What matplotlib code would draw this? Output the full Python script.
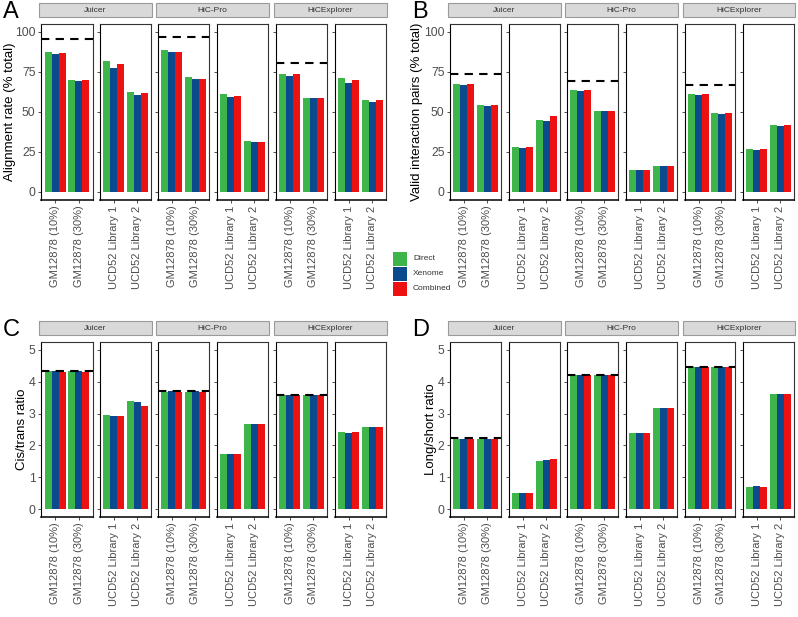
import matplotlib
matplotlib.use("Agg")
import matplotlib.pyplot as plt
from matplotlib.patches import Rectangle
import numpy as np

plt.rcParams['font.family'] = ['Liberation Sans', 'DejaVu Sans']

tools = ['Juicer', 'HiC-Pro', 'HiCExplorer']
methods = ['Direct', 'Xenome', 'Combined']
colors = ['#3DB54A', '#0B4A8C', '#EE1111']
gm_samples = ['GM12878 (10%)', 'GM12878 (30%)']
ucd_samples = ['UCD52 Library 1', 'UCD52 Library 2']

# values per tool: [GM10, GM30, UCD1, UCD2] for Juicer, HiC-Pro, HiCExplorer
align_direct = [87.3, 70.1, 81.9, 62.8, 89.0, 71.9, 61.3, 31.8, 73.6, 58.8, 71.3, 57.8]
align_xenome = [86.5, 69.2, 77.3, 60.9, 87.7, 70.5, 59.3, 31.2, 72.8, 58.6, 68.2, 56.5]
align_combined = [87.1, 69.9, 79.8, 61.7, 87.7, 70.5, 60.1, 31.4, 73.6, 58.8, 70.3, 57.4]
align_ref = [95.6, 96.7, 80.9]

valid_direct = [67.2, 54.1, 28.3, 45.3, 63.6, 50.9, 13.5, 16.2, 61.1, 49.1, 27.0, 42.0]
valid_xenome = [66.7, 53.6, 27.4, 44.5, 63.4, 50.5, 13.5, 16.0, 60.5, 48.6, 26.0, 41.4]
valid_combined = [67.2, 54.1, 27.9, 47.8, 63.6, 50.9, 13.5, 16.2, 61.1, 49.1, 26.8, 42.0]
valid_ref = [74.0, 69.6, 66.9]

cis_direct = [4.33, 4.33, 2.95, 3.39, 3.69, 3.69, 1.72, 2.68, 3.59, 3.59, 2.43, 2.58]
cis_xenome = [4.34, 4.34, 2.91, 3.37, 3.70, 3.70, 1.72, 2.68, 3.60, 3.60, 2.38, 2.59]
cis_combined = [4.32, 4.32, 2.91, 3.23, 3.69, 3.69, 1.72, 2.68, 3.59, 3.59, 2.41, 2.58]
cis_ref = [4.34, 3.70, 3.60]

ls_direct = [2.20, 2.20, 0.50, 1.52, 4.21, 4.21, 2.40, 3.17, 4.47, 4.47, 0.68, 3.61]
ls_xenome = [2.21, 2.21, 0.52, 1.54, 4.22, 4.22, 2.40, 3.17, 4.48, 4.48, 0.71, 3.61]
ls_combined = [2.20, 2.20, 0.52, 1.57, 4.21, 4.21, 2.40, 3.17, 4.47, 4.47, 0.70, 3.61]
ls_ref = [2.22, 4.22, 4.48]

W, H = 798, 617
fig = plt.figure(figsize=(W / 100, H / 100), dpi=100)


def rect(x0, y0, x1, y1):
    return [x0 / W, 1 - y1 / H, (x1 - x0) / W, (y1 - y0) / H]


def draw_panel(letter, lx, top, bottom, xs, series, refs, ylim, yticks, ytitle, ytitle_x):
    strip_top, strip_bot = top - 21, top - 7
    for ti, tool in enumerate(tools):
        # strip
        sx0 = xs[2 * ti][0] - 2
        sx1 = xs[2 * ti + 1][1] + 1
        fig.patches.append(Rectangle((sx0 / W, 1 - strip_bot / H), (sx1 - sx0) / W,
                                     (strip_bot - strip_top) / H, transform=fig.transFigure,
                                     facecolor='#D9D9D9', edgecolor='#9A9A9A', lw=0.8))
        fig.text((sx0 + sx1) / 2 / W, 1 - (strip_top + strip_bot) / 2 / H, tool,
                 ha='center', va='center', fontsize=6, color='#333333')
        for gi, samples in enumerate([gm_samples, ucd_samples]):
            ax = fig.add_axes(rect(xs[2 * ti + gi][0], top, xs[2 * ti + gi][1], bottom))
            cats = np.arange(1, 3)
            bw = 0.3
            for mi, vals in enumerate(series):
                v = vals[ti * 4 + gi * 2: ti * 4 + gi * 2 + 2]
                ax.bar(cats + (mi - 1) * bw, v, width=bw, color=colors[mi], lw=0, zorder=2)
            if gi == 0:
                ax.axhline(refs[ti], color='black', ls=(0, (4, 3)), lw=1.5, zorder=3)
            ax.set_xlim(0.4, 2.6)
            ax.set_ylim(*ylim)
            ax.set_yticks(yticks)
            ax.set_xticks(cats)
            ax.set_xticklabels(samples, rotation=90, fontsize=8, color='#4D4D4D')
            if ti == 0 and gi == 0:
                ax.set_yticklabels([str(t) for t in yticks], fontsize=8.8, color='#4D4D4D')
            else:
                ax.set_yticklabels([])
            ax.tick_params(axis='both', length=2.5, width=0.6, color='#333333', pad=1.5)
            for s in ax.spines.values():
                s.set_color('#333333')
                s.set_linewidth(0.8)
            ax.spines['left'].set_color('black')
            ax.spines['bottom'].set_color('black')
            ax.spines['bottom'].set_linewidth(1.1)
            ax.set_facecolor('white')
    fig.text(lx / W, 1 - (top - 12) / H, letter, fontsize=17, ha='left', va='center')
    fig.text(ytitle_x / W, 1 - (top + bottom) / 2 / H, ytitle, rotation=90,
             ha='center', va='center', fontsize=9.5)


xs_left = [(41, 93), (100, 151), (158, 209), (217, 268), (276, 327), (335, 386)]
xs_right = [(450, 501), (509, 560), (567, 618), (626, 677), (685, 735), (743, 794)]

draw_panel('A', 3, 24, 200, xs_left, [align_direct, align_xenome, align_combined], align_ref,
           (-5, 105), [0, 25, 50, 75, 100], 'Alignment rate (% total)', 10)
draw_panel('B', 412, 24, 200, xs_right, [valid_direct, valid_xenome, valid_combined], valid_ref,
           (-5, 105), [0, 25, 50, 75, 100], 'Valid interaction pairs (% total)', 417)
draw_panel('C', 3, 342, 517, xs_left, [cis_direct, cis_xenome, cis_combined], cis_ref,
           (-0.25, 5.25), [0, 1, 2, 3, 4, 5], 'Cis/trans ratio', 22)
draw_panel('D', 412, 342, 517, xs_right, [ls_direct, ls_xenome, ls_combined], ls_ref,
           (-0.25, 5.25), [0, 1, 2, 3, 4, 5], 'Long/short ratio', 431)

# legend
for mi, m in enumerate(methods):
    y0 = 252 + mi * 15
    fig.patches.append(Rectangle((393 / W, 1 - (y0 + 14) / H), 14 / W, 14 / H,
                                 transform=fig.transFigure, facecolor=colors[mi], lw=0))
    fig.text(413 / W, 1 - (y0 + 7) / H, m, fontsize=6, color='#333333', ha='left', va='center')

fig.savefig('out.png', dpi=100)
